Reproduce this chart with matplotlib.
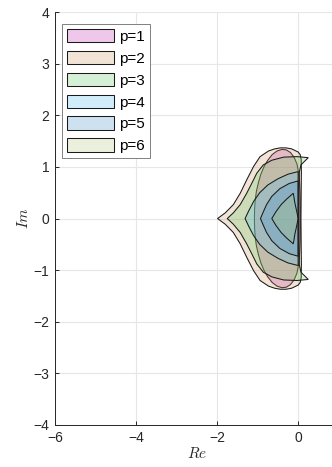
import numpy as np
import matplotlib
matplotlib.use("Agg")
import matplotlib.pyplot as plt

plt.rcParams['font.family'] = ['Liberation Sans', 'DejaVu Sans']
plt.rcParams['mathtext.fontset'] = 'cm'

# upper half of each region boundary (Re, Im), from left cusp over the top down to the real axis
re_p1 = [-1.08, -1.075, -1.06, -1.03, -0.98, -0.92, -0.84, -0.75, -0.64, -0.52, -0.40, -0.29, -0.19,
         -0.10, -0.03, 0.01, 0.035, 0.05, 0.055, 0.055]
im_p1 = [0.00, 0.18, 0.36, 0.53, 0.70, 0.86, 1.01, 1.13, 1.24, 1.31, 1.34, 1.33, 1.28,
         1.19, 1.06, 0.90, 0.70, 0.45, 0.20, 0.00]

re_p2 = [-1.99, -1.80, -1.60, -1.43, -1.27, -1.10, -0.94, -0.73, -0.58, -0.44, -0.30, -0.16,
         0.00, 0.05, 0.075, 0.08, 0.075, 0.07]
im_p2 = [0.00, 0.11, 0.27, 0.49, 0.75, 1.01, 1.20, 1.31, 1.35, 1.37, 1.37, 1.35,
         1.29, 1.24, 1.15, 0.90, 0.50, 0.00]

re_p3 = [-1.75, -1.60, -1.43, -1.27, -1.14, -1.02, -0.86, -0.65, -0.36, -0.03, 0.25, 0.07, 0.03, 0.02, 0.02]
im_p3 = [0.00, 0.11, 0.27, 0.49, 0.69, 0.88, 1.04, 1.13, 1.19, 1.20, 1.18, 1.04, 0.90, 0.50, 0.00]

re_p4 = [-1.31, -1.22, -1.10, -0.95, -0.75, -0.50, -0.25, 0.00, 0.00]
im_p4 = [0.00, 0.15, 0.33, 0.50, 0.65, 0.77, 0.86, 0.91, 0.00]

re_p5 = [-0.93, -0.86, -0.78, -0.65, -0.45, -0.22, 0.00, 0.00]
im_p5 = [0.00, 0.13, 0.27, 0.43, 0.58, 0.68, 0.73, 0.00]

re_p6 = [-0.65, -0.55, -0.42, -0.28, -0.12, -0.08, -0.03, 0.00]
im_p6 = [0.00, 0.13, 0.27, 0.38, 0.49, 0.30, 0.12, 0.00]

labels = ['p=1', 'p=2', 'p=3', 'p=4', 'p=5', 'p=6']
colores = ['#c323af', '#cb935b', '#5bcb5b', '#4bbbf3', '#3f8bcb', '#afc773']

regiones = [(re_p1, im_p1), (re_p2, im_p2), (re_p3, im_p3),
            (re_p4, im_p4), (re_p5, im_p5), (re_p6, im_p6)]

fig = plt.figure(figsize=(3.32, 4.67), dpi=100)
ax = fig.add_axes([0.166, 0.09, 0.854, 0.884])

for (re, im), c, lab in zip(regiones, colores, labels):
    re = np.array(re)
    im = np.array(im)
    x = np.concatenate((re, re[::-1][1:]))
    y = np.concatenate((im, -im[::-1][1:]))
    fc = matplotlib.colors.to_rgba(c, 0.25)
    ax.fill(x, y, facecolor=fc, edgecolor='#1a1a1a', linewidth=0.75, label=lab)

ax.set_xlim(-6, 1)
ax.set_ylim(-4, 4)
ax.set_xticks([-6, -4, -2, 0])
ax.set_yticks(np.arange(-4, 5))
ax.grid(True, color='#e6e6e6', linewidth=0.8)
ax.set_axisbelow(True)
for s in ['top', 'right']:
    ax.spines[s].set_visible(False)
for s in ['left', 'bottom']:
    ax.spines[s].set_color('#262626')
    ax.spines[s].set_linewidth(0.7)
ax.tick_params(direction='in', length=3, width=0.7, colors='#262626',
               labelsize=10, pad=4)

ax.set_xlabel('$Re$', fontsize=11, color='#262626', labelpad=1)
ax.set_ylabel('$Im$', fontsize=11, color='#262626', labelpad=2)

leg = ax.legend(loc='upper left', bbox_to_anchor=(0.025, 0.971), borderaxespad=0,
                fontsize=11, handlelength=3.1, handleheight=0.98, labelspacing=0.45,
                handletextpad=0.3, borderpad=0.32, fancybox=False, framealpha=1)
leg.get_frame().set_edgecolor('#808080')
leg.get_frame().set_linewidth(0.7)

fig.savefig('out.png', dpi=100)
